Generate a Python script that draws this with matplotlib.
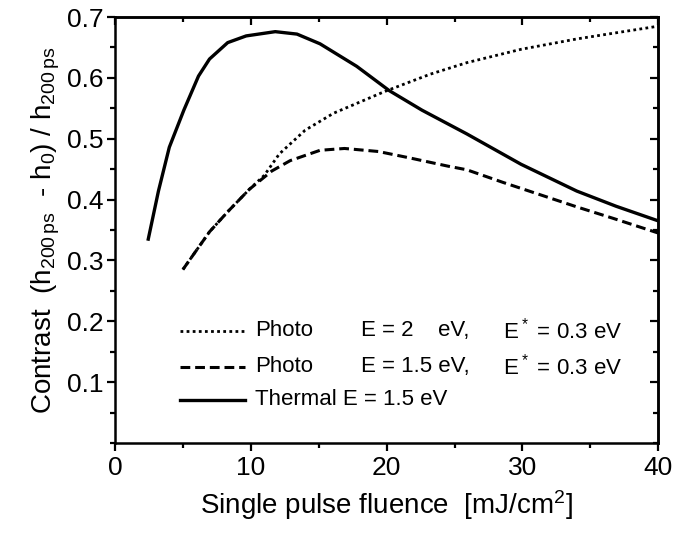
import numpy as np
import matplotlib
matplotlib.use('Agg')
import matplotlib.pyplot as plt
from matplotlib.ticker import MultipleLocator

plt.rcParams['font.family'] = ['Liberation Sans', 'DejaVu Sans']
plt.rcParams['mathtext.default'] = 'regular'

# thermal model, E = 1.5 eV
x_thermal = [2.45, 3.2, 4.0, 5.07, 6.15, 6.96, 8.3, 9.66, 11.8, 13.4, 15.1,
             17.8, 20.2, 22.6, 25.9, 29.9, 34.0, 36.9, 40.0]
y_thermal = [0.335, 0.414, 0.486, 0.547, 0.603, 0.631, 0.658, 0.669, 0.676,
             0.672, 0.656, 0.619, 0.579, 0.547, 0.508, 0.458, 0.414, 0.389, 0.365]

# photo model, E = 2 eV
x_photo2 = [5.0, 6.96, 8.3, 9.9, 11.0, 12.1, 14.0, 16.1, 19.9, 23.2, 25.9,
            29.9, 34.0, 40.0]
y_photo2 = [0.285, 0.347, 0.38, 0.417, 0.44, 0.475, 0.514, 0.542, 0.578,
            0.606, 0.625, 0.647, 0.664, 0.685]

# photo model, E = 1.5 eV
x_photo15 = [5.0, 6.96, 8.3, 9.9, 11.55, 12.9, 15.1, 16.9, 19.4, 21.8, 24.5,
             25.9, 28.6, 31.3, 34.0, 36.7, 40.0]
y_photo15 = [0.285, 0.347, 0.38, 0.417, 0.447, 0.464, 0.481, 0.484, 0.479,
             0.468, 0.455, 0.449, 0.428, 0.408, 0.388, 0.369, 0.345]

fig = plt.figure(figsize=(6.74, 5.33), dpi=100)
ax = fig.add_axes([0.1706, 0.169, 0.806, 0.799])

ax.plot(x_photo2, y_photo2, color='black', lw=2.0, linestyle=(0, (1, 1.2)))
ax.plot(x_photo15, y_photo15, color='black', lw=2.2, linestyle=(0, (3.2, 1.6)))
ax.plot(x_thermal, y_thermal, color='black', lw=2.4)

ax.set_xlim(0, 40)
ax.set_ylim(0, 0.7)
ax.set_yticks(np.arange(0.1, 0.71, 0.1))
ax.set_xticks(np.arange(0, 41, 10))
ax.xaxis.set_minor_locator(MultipleLocator(5))
ax.yaxis.set_minor_locator(MultipleLocator(0.05))
ax.tick_params(which='both', direction='out', width=1.6, labelsize=19,
               top=False, right=False)
ax.tick_params(which='major', length=6)
ax.tick_params(which='minor', length=3.5)
ax.tick_params(axis='y', pad=2)

# inward ticks on the top and right sides
sec_x = ax.secondary_xaxis('top')
sec_x.set_xticks(np.arange(0, 41, 10))
sec_x.xaxis.set_minor_locator(MultipleLocator(5))
sec_x.tick_params(which='both', direction='in', width=1.6, labeltop=False)
sec_x.tick_params(which='major', length=6)
sec_x.tick_params(which='minor', length=3.5)
sec_y = ax.secondary_yaxis('right')
sec_y.set_yticks(np.arange(0.1, 0.71, 0.1))
sec_y.yaxis.set_minor_locator(MultipleLocator(0.05))
sec_y.tick_params(which='both', direction='in', width=1.6, labelright=False)
sec_y.tick_params(which='major', length=6)
sec_y.tick_params(which='minor', length=3.5)
for s in list(ax.spines.values()) + [sec_x.spines['top'], sec_y.spines['right']]:
    s.set_linewidth(1.8)

ax.set_xlabel('Single pulse fluence  [mJ/cm$^2$]', fontsize=20, labelpad=6)
ax.set_ylabel('Contrast  (h$_{200\\,ps}$  - h$_0$) / h$_{200\\,ps}$',
              fontsize=20, labelpad=4)

# legend drawn by hand so the columns line up
fs = 16
rows = [
    ((0, (1, 1.2)), 2.0, 0.184, 'Photo', 'E = 2    eV,', 'E$^*$ = 0.3 eV'),
    ((0, (3.2, 1.6)), 2.2, 0.125, 'Photo', 'E = 1.5 eV,', 'E$^*$ = 0.3 eV'),
    ('-', 2.4, 0.071, 'Thermal E = 1.5 eV', None, None),
]
for ls, lw, yy, name, col2, col3 in rows:
    ax.plot([4.8, 9.6], [yy, yy], color='black', lw=lw, linestyle=ls)
    ax.text(10.3, yy, name, fontsize=fs, va='center')
    if col2 is not None:
        ax.text(18.1, yy, col2, fontsize=fs, va='center')
        ax.text(28.6, yy, col3, fontsize=fs, va='center')

fig.savefig('out.png', dpi=100)
